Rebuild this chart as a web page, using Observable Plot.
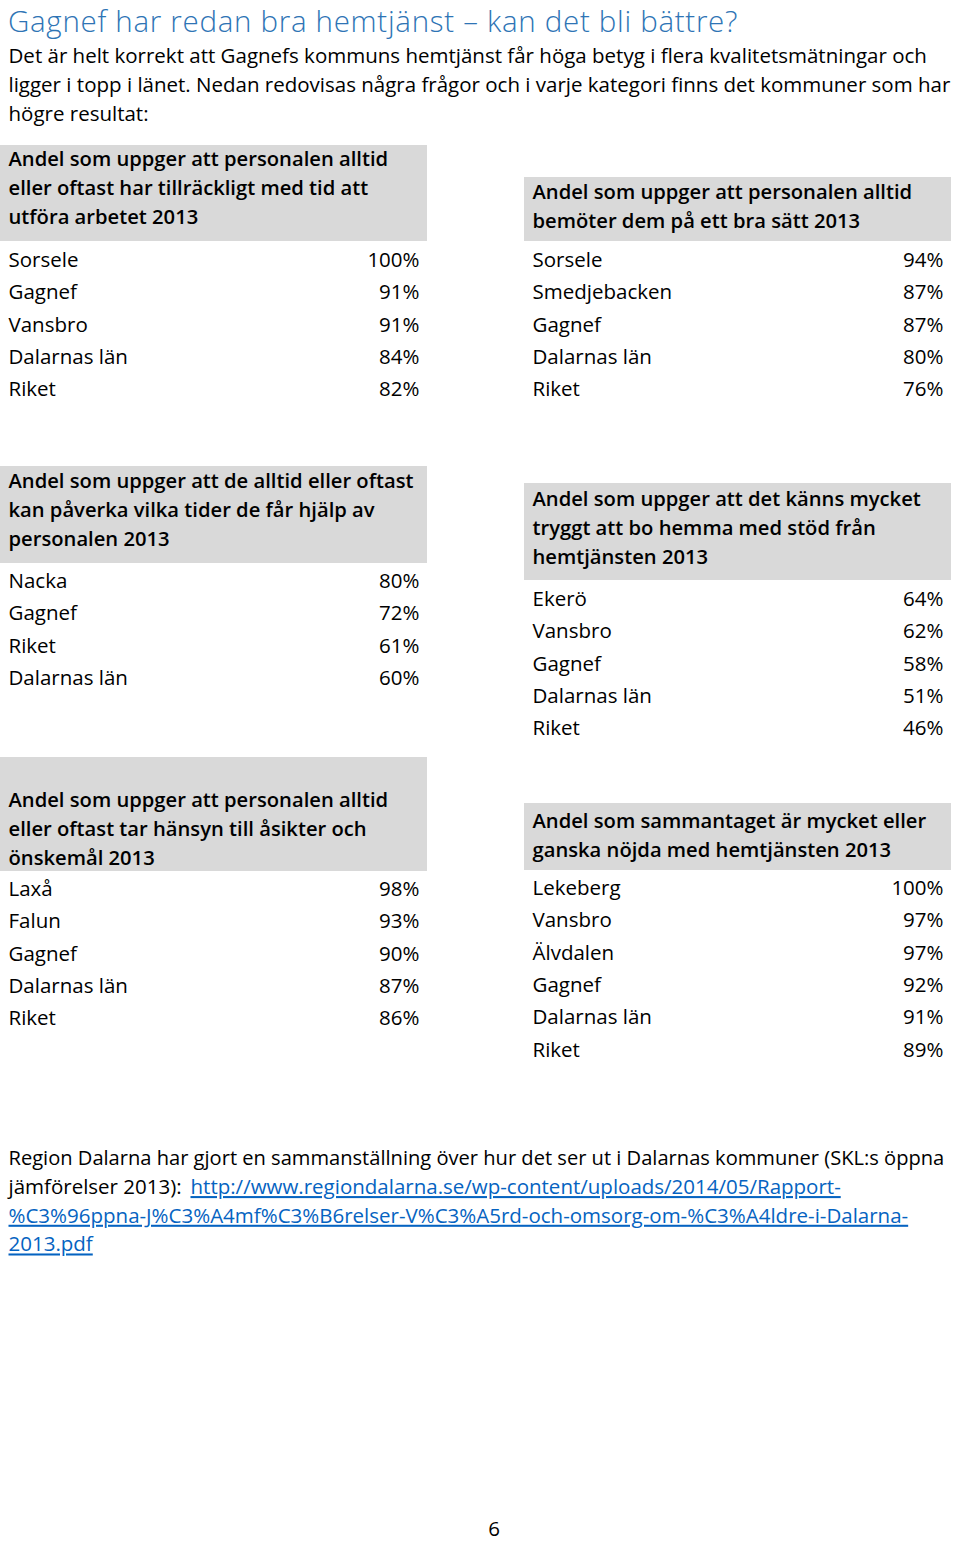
<!DOCTYPE html>
<html>
<head>
<meta charset="utf-8">
<script src="https://cdn.jsdelivr.net/npm/d3@7"></script>
<script src="https://cdn.jsdelivr.net/npm/@observablehq/plot@0.6"></script>
<style>
html,body{margin:0;padding:0;background:#fff;}
#title{height:40px;line-height:41px;padding-left:8px;font-family:'Open Sans',Lato,sans-serif;font-size:29.5px;letter-spacing:0.7px;font-weight:300;color:#2e74b5;white-space:nowrap;overflow:visible;}
#footer{position:relative;height:26px;font-family:'Open Sans',Lato,sans-serif;font-size:20.5px;line-height:27px;color:#000;}
#footer span{position:absolute;left:494px;top:0;transform:translateX(-50%);}
#chart svg{display:block;}
</style>
</head>
<body>
<div id="title"></div>
<div id="chart"></div>
<div id="footer"><span id="pagenum"></span></div>
<script>
// ---- data ----
const pageTitle = "Gagnef har redan bra hemtjänst – kan det bli bättre?";
const introLines = [
  "Det är helt korrekt att Gagnefs kommuns hemtjänst får höga betyg i flera kvalitetsmätningar och",
  "ligger i topp i länet. Nedan redovisas några frågor och i varje kategori finns det kommuner som har",
  "högre resultat:"
];
const panelTitles = [
  ["Andel som uppger att personalen alltid", "eller oftast har tillräckligt med tid att", "utföra arbetet 2013"],
  ["Andel som uppger att personalen alltid", "bemöter dem på ett bra sätt 2013"],
  ["Andel som uppger att de alltid eller oftast", "kan påverka vilka tider de får hjälp av", "personalen 2013"],
  ["Andel som uppger att det känns mycket", "tryggt att bo hemma med stöd från", "hemtjänsten 2013"],
  ["Andel som uppger att personalen alltid", "eller oftast tar hänsyn till åsikter och", "önskemål 2013"],
  ["Andel som sammantaget är mycket eller", "ganska nöjda med hemtjänsten 2013"]
];
const panelNames = [
  ["Sorsele", "Gagnef", "Vansbro", "Dalarnas län", "Riket"],
  ["Sorsele", "Smedjebacken", "Gagnef", "Dalarnas län", "Riket"],
  ["Nacka", "Gagnef", "Riket", "Dalarnas län"],
  ["Ekerö", "Vansbro", "Gagnef", "Dalarnas län", "Riket"],
  ["Laxå", "Falun", "Gagnef", "Dalarnas län", "Riket"],
  ["Lekeberg", "Vansbro", "Älvdalen", "Gagnef", "Dalarnas län", "Riket"]
];
const panelValues = [
  [100, 91, 91, 84, 82],
  [94, 87, 87, 80, 76],
  [80, 72, 61, 60],
  [64, 62, 58, 51, 46],
  [98, 93, 90, 87, 86],
  [100, 97, 97, 92, 91, 89]
];
const captionText = "Region Dalarna har gjort en sammanställning över hur det ser ut i Dalarnas kommuner (SKL:s öppna";
const captionPrefix = "jämförelser 2013): ";
const linkLines = [
  "http://www.regiondalarna.se/wp-content/uploads/2014/05/Rapport-",
  "%C3%96ppna-J%C3%A4mf%C3%B6relser-V%C3%A5rd-och-omsorg-om-%C3%A4ldre-i-Dalarna-",
  "2013.pdf"
];
const pageNumber = "6";

// ---- layout (positions, not data) ----
const W = 960, H = 1541;
const TOP = 40, BOTTOM = 1515;   // page y-range covered by the SVG
const colX = [0, 524];           // box left edges
const boxW = 427;
const padX = 8;
const rowStep = 32.3;
const headerStep = 29;
const panelLayout = [
  {col: 0, top: 145, bottom: 241, head: 159, row: 260},
  {col: 1, top: 177, bottom: 241, head: 192, row: 260},
  {col: 0, top: 466, bottom: 563, head: 481, row: 581},
  {col: 1, top: 483, bottom: 580, head: 499, row: 599},
  {col: 0, top: 757, bottom: 871, head: 800, row: 889},
  {col: 1, top: 803, bottom: 870, head: 821, row: 888}
];

const FONT = "'Open Sans', Lato, sans-serif";
const FS = 20.5;
const LINK = "#0563c1";

const boxes = panelLayout.map(p => ({x1: colX[p.col], x2: colX[p.col] + boxW, y1: p.top, y2: p.bottom}));
const headers = panelTitles.flatMap((lines, i) => lines.map((t, j) => ({
  x: colX[panelLayout[i].col] + padX, y: panelLayout[i].head + j * headerStep, t
})));
const rows = panelNames.flatMap((names, i) => names.map((n, j) => ({
  xl: colX[panelLayout[i].col] + padX,
  xr: colX[panelLayout[i].col] + boxW - padX,
  y: panelLayout[i].row + j * rowStep,
  name: n,
  value: panelValues[i][j] + "%"
})));
const intro = introLines.map((t, i) => ({x: 8, y: 56 + i * 29, t}));
const captionRow1 = [{x: 8, y: 1158, t: captionText}];
const captionRow2 = [{x: 8, y: 1187, t: captionPrefix}];
const linkRows = linkLines.map((t, i) => ({x: i === 0 ? 190 : 8, y: 1187 + i * 28.7, t}));

document.getElementById("title").textContent = pageTitle;
document.getElementById("pagenum").textContent = pageNumber;

const chart = Plot.plot({
  width: W, height: BOTTOM - TOP,
  margin: 0,
  x: {domain: [0, W], range: [0, W], axis: null},
  y: {domain: [TOP, BOTTOM], range: [0, BOTTOM - TOP], axis: null},
  style: {fontFamily: FONT, background: "#fff"},
  marks: [
    Plot.rect(boxes, {x1: "x1", x2: "x2", y1: "y1", y2: "y2", fill: "#d9d9d9"}),
    Plot.text(intro, {x: "x", y: "y", text: "t", textAnchor: "start", fontSize: FS, fill: "#000"}),
    Plot.text(headers, {x: "x", y: "y", text: "t", textAnchor: "start", fontSize: 20.2, fontWeight: 600, fill: "#000"}),
    Plot.text(rows, {x: "xl", y: "y", text: "name", textAnchor: "start", fontSize: FS, fill: "#000"}),
    Plot.text(rows, {x: "xr", y: "y", text: "value", textAnchor: "end", fontSize: FS, fill: "#000"}),
    Plot.text(captionRow1, {x: "x", y: "y", text: "t", textAnchor: "start", fontSize: 20.1, fill: "#000"}),
    Plot.text(captionRow2, {x: "x", y: "y", text: "t", textAnchor: "start", fontSize: FS, fill: "#000"}),
    Plot.text(linkRows, {x: "x", y: "y", text: "t", textAnchor: "start", fontSize: FS, fill: LINK})
  ]
});
// underline the hyperlink text
d3.select(chart).selectAll("g")
  .filter(function() { return this.getAttribute("fill") === LINK; })
  .selectAll("text")
  .attr("text-decoration", "underline")
  .style("text-decoration", "underline");
document.getElementById("chart").appendChild(chart);
</script>
</body>
</html>
